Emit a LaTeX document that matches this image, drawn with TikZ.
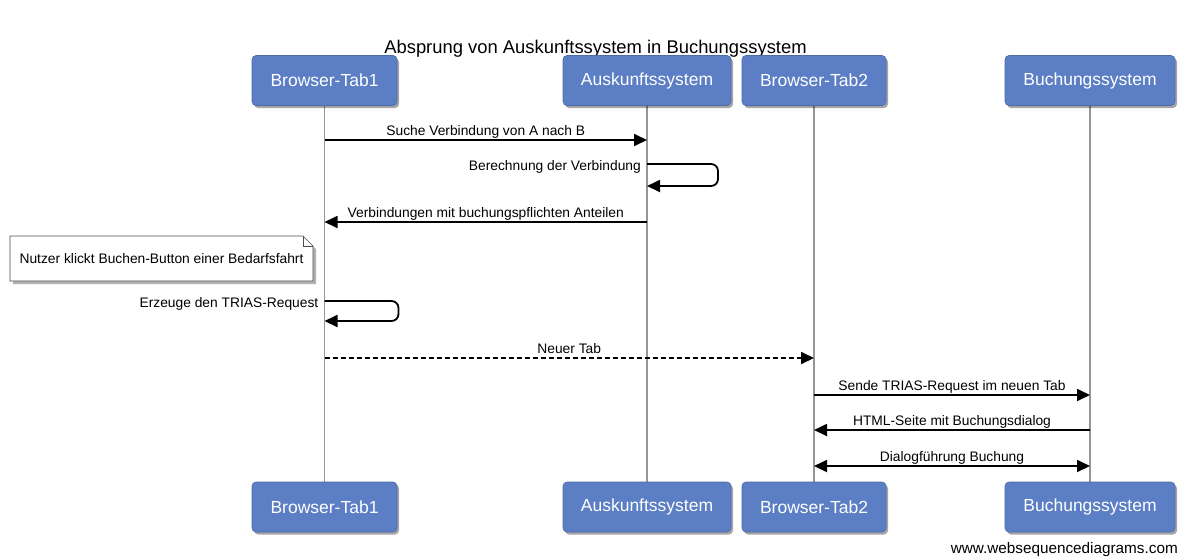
\documentclass[tikz,border=0pt]{standalone}
\usepackage{fontspec}
\setmainfont{Liberation Sans}
\usetikzlibrary{arrows.meta,shadows,calc}
\definecolor{partblue}{RGB}{91,126,196}
\definecolor{lifegray}{RGB}{150,150,150}
\begin{document}
\begin{tikzpicture}[x=1pt,y=-1pt,
  participant/.style={fill=partblue, draw=partblue!85!black, line width=0.6pt,
    rounded corners=4pt, text=white, font=\fontsize{17.5}{20}\selectfont,
    minimum height=50pt, inner sep=0pt,
    drop shadow={shadow xshift=2pt, shadow yshift=-2.5pt, opacity=0.35, fill=black}},
  lifeline/.style={draw=lifegray, line width=1.6pt},
  msg/.style={line width=1.8pt, -{Triangle[length=13pt,width=12pt]}},
  lbl/.style={font=\fontsize{13.8}{16}\selectfont, inner sep=0pt},
  noteline/.style={line width=0.6pt, draw=black!70},
]
\useasboundingbox (0,0) rectangle (1182,558);

% title
\node[font=\fontsize{18.4}{22}\selectfont, anchor=base] (title) at (595.5,53)
  {Absprung von Auskunftssystem in Buchungssystem};

% lifeline x positions
\coordinate (pA) at (324.5,0);
\coordinate (pB) at (647,0);
\coordinate (pC) at (814,0);
\coordinate (pD) at (1090,0);

% lifelines
\draw[lifeline] (pA |- 0,105) -- (pA |- 0,482);
\draw[lifeline] (pB |- 0,105) -- (pB |- 0,482);
\draw[lifeline] (pC |- 0,105) -- (pC |- 0,482);
\draw[lifeline] (pD |- 0,105) -- (pD |- 0,482);

% participant heads
\node[participant, minimum width=145pt] (bt1) at (pA |- 0,80.5) {Browser-Tab1};
\node[participant, minimum width=168pt] (aus) at (pB |- 0,80.5) {Auskunftssystem};
\node[participant, minimum width=144pt] (bt2) at (pC |- 0,80.5) {Browser-Tab2};
\node[participant, minimum width=170pt] (buch) at (pD |- 0,80.5) {Buchungssystem};

% participant feet
\node[participant, minimum width=145pt] (bt1f) at (pA |- 0,507) {Browser-Tab1};
\node[participant, minimum width=168pt] (ausf) at (pB |- 0,507) {Auskunftssystem};
\node[participant, minimum width=144pt] (bt2f) at (pC |- 0,507) {Browser-Tab2};
\node[participant, minimum width=170pt] (buchf) at (pD |- 0,507) {Buchungssystem};

% messages
\draw[msg] (bt1 |- 0,140) -- node[lbl, anchor=base, yshift=5pt] (m1)
  {Suche Verbindung von A nach B} (aus |- 0,140);

\draw[msg, rounded corners=7pt] (aus |- 0,164) -- ++(71,0) -- ++(0,22) -- (aus |- 0,186);
\node[lbl, anchor=base east] (m2) at ($(aus |- 0,170)+(-6,0)$) {Berechnung der Verbindung};

\draw[msg] (aus |- 0,222) -- node[lbl, anchor=base, yshift=5pt] (m3)
  {Verbindungen mit buchungspflichten Anteilen} (bt1 |- 0,222);

% note with folded corner
\coordinate (nw) at (10,236);
\coordinate (se) at (313,281);
\fill[black, opacity=0.3] ($(nw)+(3,3)$) -- ($(se |- nw)+(-7,3)$) -- ($(se |- nw)+(3,13)$)
  -- ($(se)+(3,3)$) -- ($(nw |- se)+(3,3)$) -- cycle;
\draw[noteline, fill=white] (nw) -- ($(se |- nw)+(-10,0)$) -- ($(se |- nw)+(0,10)$)
  -- (se) -- (nw |- se) -- cycle;
\draw[noteline] ($(se |- nw)+(-10,0)$) -- ($(se |- nw)+(-10,10)$) -- ($(se |- nw)+(0,10)$);
\node[lbl] (note) at ($(nw)!0.5!(se)$) {Nutzer klickt Buchen-Button einer Bedarfsfahrt};

\draw[msg, rounded corners=7pt] (bt1 |- 0,301) -- ++(74,0) -- ++(0,20) -- (bt1 |- 0,321);
\node[lbl, anchor=base east] (m4) at ($(bt1 |- 0,307)+(-6,0)$) {Erzeuge den TRIAS-Request};

\draw[msg, dash pattern=on 5pt off 3pt] (bt1 |- 0,358) -- node[lbl, anchor=base, yshift=5pt] (m5)
  {Neuer Tab} (bt2 |- 0,358);

\draw[msg] (bt2 |- 0,395) -- node[lbl, anchor=base, yshift=5pt] (m6)
  {Sende TRIAS-Request im neuen Tab} (buch |- 0,395);

\draw[msg] (buch |- 0,430) -- node[lbl, anchor=base, yshift=5pt] (m7)
  {HTML-Seite mit Buchungsdialog} (bt2 |- 0,430);

\draw[line width=1.8pt, {Triangle[length=13pt,width=12pt]}-{Triangle[length=13pt,width=12pt]}]
  (bt2 |- 0,466) -- node[lbl, anchor=base, yshift=5pt] (m8)
  {Dialogführung Buchung} (buch |- 0,466);

% footer
\node[font=\fontsize{15.3}{18}\selectfont, anchor=base east, inner sep=0pt] (footer)
  at (1178,553) {www.websequencediagrams.com};
\end{tikzpicture}
\end{document}
